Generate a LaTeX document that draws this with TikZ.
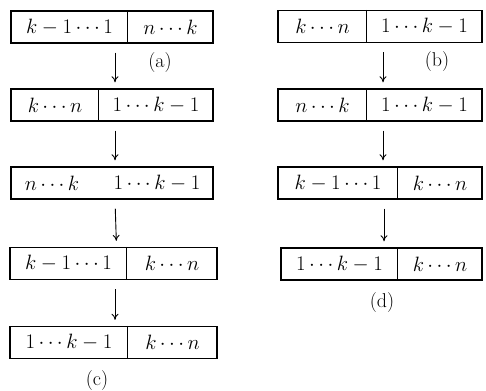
\documentclass[tikz,border=0pt]{standalone}
\usetikzlibrary{arrows.meta}
\begin{document}
\begin{tikzpicture}[x=1pt,y=1pt,
  box/.style={draw, line width=1.4pt, minimum height=32pt, inner sep=0pt},
  divider/.style={line width=1.3pt},
  txt/.style={inner sep=0pt, font=\fontsize{20.5}{22}\selectfont},
  lab/.style={inner sep=0pt, font=\fontsize{20}{22}\selectfont},
  flow/.style={-{To[length=6pt,width=7pt]}, line width=0.9pt, shorten <=9pt, shorten >=6pt}]
\useasboundingbox (0,0) rectangle (486,390);
% ---------- left column ----------
\node[box, minimum width=202pt] (L1) at (112,363) {};
\draw[divider] ([xshift=117pt]L1.north west) -- ([xshift=117pt]L1.south west);
\node[txt] (L1a) at (69.5,363) {$k-1\cdots1$};
\node[txt] (L1b) at (170.5,363) {$n\cdots k$};

\node[box, minimum width=202pt] (L2) at (112,285) {};
\draw[divider] ([xshift=88pt]L2.north west) -- ([xshift=88pt]L2.south west);
\node[txt] (L2a) at (55,285) {$k\cdots n$};
\node[txt] (L2b) at (156,285) {$1\cdots k-1$};

\node[box, minimum width=202pt] (L3) at (112,207) {};
\node[txt] (L3a) at (52,207) {$n\cdots k$};
\node[txt] (L3b) at (157,207) {$1\cdots k-1$};

\node[box, minimum width=207pt] (L4) at (113.5,126.5) {};
\draw[divider] ([xshift=117pt]L4.north west) -- ([xshift=117pt]L4.south west);
\node[txt] (L4a) at (68.5,126.5) {$k-1\cdots1$};
\node[txt] (L4b) at (172,126.5) {$k\cdots n$};

\node[box, minimum width=207pt] (L5) at (113.5,47.5) {};
\draw[divider] ([xshift=118pt]L5.north west) -- ([xshift=118pt]L5.south west);
\node[txt] (L5a) at (69,47.5) {$1\cdots k-1$};
\node[txt] (L5b) at (172.5,47.5) {$k\cdots n$};

\draw[flow] ([xshift=3pt]L1.south) -- ([xshift=3pt]L2.north);
\draw[flow] ([xshift=3pt]L2.south) -- ([xshift=3pt]L3.north);
\draw[flow] ([xshift=3pt]L3.south) -- ([xshift=3pt]L4.north);
\draw[flow] ([xshift=1.5pt]L4.south) -- ([xshift=1.5pt]L5.north);

\node[lab] (la) at (160,327) {(a)};
\node[lab] (lc) at (97,9) {(c)};

% ---------- right column ----------
\node[box, minimum width=204pt] (R1) at (380,363.5) {};
\draw[divider] ([xshift=89pt]R1.north west) -- ([xshift=89pt]R1.south west);
\node[txt] (R1a) at (322.5,363.5) {$k\cdots n$};
\node[txt] (R1b) at (424.5,363.5) {$1\cdots k-1$};

\node[box, minimum width=204pt] (R2) at (380,285) {};
\draw[divider] ([xshift=89pt]R2.north west) -- ([xshift=89pt]R2.south west);
\node[txt] (R2a) at (322.5,285) {$n\cdots k$};
\node[txt] (R2b) at (424.5,285) {$1\cdots k-1$};

\node[box, minimum width=204pt] (R3) at (380,207) {};
\draw[divider] ([xshift=120pt]R3.north west) -- ([xshift=120pt]R3.south west);
\node[txt] (R3a) at (338,207) {$k-1\cdots1$};
\node[txt] (R3b) at (440,207) {$k\cdots n$};

\node[box, minimum width=201pt] (R4) at (381.5,126) {};
\draw[divider] ([xshift=117pt]R4.north west) -- ([xshift=117pt]R4.south west);
\node[txt] (R4a) at (339.5,126) {$1\cdots k-1$};
\node[txt] (R4b) at (440,126) {$k\cdots n$};

\draw[flow] ([xshift=3pt]R1.south) -- ([xshift=3pt]R2.north);
\draw[flow] ([xshift=3pt]R2.south) -- ([xshift=3pt]R3.north);
\draw[flow] ([xshift=4pt]R3.south) -- ([xshift=2.5pt]R4.north);

\node[lab] (lb) at (437,328) {(b)};
\node[lab] (ld) at (382,87) {(d)};
\end{tikzpicture}
\end{document}
